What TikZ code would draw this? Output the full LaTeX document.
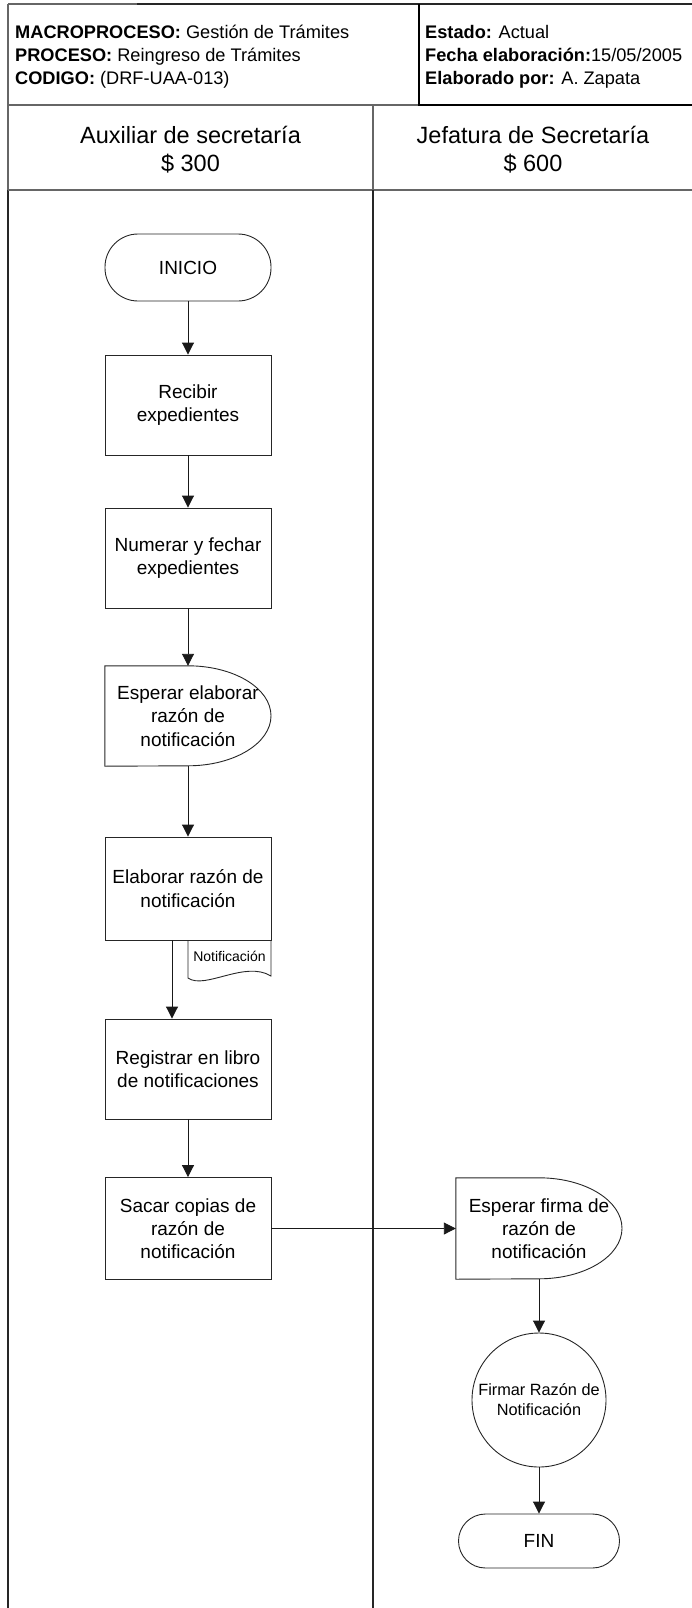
\documentclass[tikz,border=0pt]{standalone}
\usepackage{fontspec}
\setmainfont{Liberation Sans}
\usetikzlibrary{arrows.meta,calc}
\begin{document}
\begin{tikzpicture}[x=1pt,y=-1pt,
  frameline/.style={line width=1.3pt, draw=black!85},
  lightline/.style={line width=1.1pt, draw=black!60},
  heavyline/.style={line width=2pt, draw=black},
  hdrtext/.style={anchor=base west, inner sep=0pt, font=\fontsize{18.2}{23}\selectfont},
  lanetext/.style={anchor=base, inner sep=0pt, font=\fontsize{23.5}{28}\selectfont},
  procbox/.style={draw=black!85, line width=0.9pt, minimum width=166pt, minimum height=100pt, inner sep=0pt, align=center, font=\fontsize{19}{23.3}\selectfont},
  delaybox/.style={minimum width=166pt, minimum height=100pt, inner sep=0pt, align=center, font=\fontsize{19}{23.3}\selectfont},
  outline/.style={draw=black!85, line width=0.9pt},
  termbox/.style={draw=black!85, line width=0.9pt, minimum width=166pt, inner sep=0pt, align=center, font=\fontsize{19}{23.3}\selectfont},
  circbox/.style={draw=black!85, line width=0.9pt, circle, minimum size=134pt, inner sep=0pt, align=center, font=\fontsize{16.3}{20}\selectfont},
  arr/.style={draw=black!90, line width=0.9pt, -{Triangle[length=12pt,width=12pt]}}
]
\useasboundingbox (0,0) rectangle (692,1608);

% ---- header frame ----
\draw[lightline] (8,4) -- (137,4);
\draw[frameline] (137,4) -- (692,4);
\draw[lightline] (8,4) -- (8,190);
\draw[frameline] (8,190) -- (8,1608);
\draw[lightline] (8,105) -- (419,105);
\draw[heavyline] (419,4) -- (419,105) -- (692,105);
\draw[lightline] (8,190) -- (692,190);
\draw[lightline] (373,105) -- (373,190);
\draw[frameline] (373,190) -- (373,1608);

% ---- header texts ----
\node[hdrtext] (h1) at (15,38.5) {\textbf{MACROPROCESO:} Gestión de Trámites};
\node[hdrtext] (h2) at (15,61.8) {\textbf{PROCESO:} Reingreso de Trámites};
\node[hdrtext] (h3) at (15,85) {\textbf{CODIGO:} (DRF-UAA-013)};
\node[hdrtext] (h4) at (425,38.5) {\textbf{Estado:} Actual};
\node[hdrtext] (h5) at (425,61.8) {\textbf{Fecha elaboración:}15/05/2005};
\node[hdrtext] (h6) at (425,85) {\textbf{Elaborado por:} A. Zapata};

% ---- lane headers ----
\node[lanetext] (l1a) at (190.5,143.5) {Auxiliar de secretaría};
\node[lanetext] (l1b) at (190.5,171.5) {\$ 300};
\node[lanetext] (l2a) at (533,143.5) {Jefatura de Secretaría};
\node[lanetext] (l2b) at (533,171.5) {\$ 600};

% ---- left lane nodes ----
\node[termbox, rounded corners=33pt, minimum height=67pt] (inicio) at (188,267.5) {INICIO};
\node[procbox] (recibir) at (188,405) {Recibir\\expedientes};
\node[procbox] (numerar) at (188,558) {Numerar y fechar\\expedientes};
\node[delaybox] (esp1) at (188,716) {Esperar elaborar\\razón de\\notificación};
\draw[outline] (esp1.north west) -- (esp1.north) arc[start angle=90,end angle=-90,x radius=83pt,y radius=50pt] -- (esp1.south west) -- cycle;
\node[procbox, minimum height=103pt] (elab) at (188,888.5) {Elaborar razón de\\notificación};
\node[inner sep=0pt, minimum width=83pt, minimum height=30pt, font=\fontsize{14}{17}\selectfont] (doc) at (229.5,956) {Notificación};
\draw[outline] (188,940) -- (188,978) .. controls (205,990) and (245,960) .. (271,976) -- (271,940);
\node[procbox] (reg) at (188,1069) {Registrar en libro\\de notificaciones};
\node[procbox, minimum height=102pt] (sacar) at (188,1228.5) {Sacar copias de\\razón de\\notificación};

% ---- right lane nodes ----
\node[delaybox, minimum height=101pt] (esp2) at (539,1228.5) {Esperar firma de\\razón de\\notificación};
\draw[outline] (esp2.north west) -- (esp2.north) arc[start angle=90,end angle=-90,x radius=83pt,y radius=50.5pt] -- (esp2.south west) -- cycle;
\node[circbox] (firmar) at (539,1400) {Firmar Razón de\\Notificación};
\node[termbox, rounded corners=27pt, minimum width=161pt, minimum height=54pt] (fin) at (539,1541) {FIN};

% ---- connectors ----
\draw[arr] (inicio) -- (recibir);
\draw[arr] (recibir) -- (numerar);
\draw[arr] (numerar) -- (esp1.north);
\draw[arr] (esp1.south) -- (elab);
\draw[arr] ([xshift=-16pt]elab.south) -- ([xshift=-16pt]reg.north);
\draw[arr] (reg) -- (sacar);
\draw[arr] (sacar.east) -- (esp2.west);
\draw[arr] (esp2.south) -- (firmar);
\draw[arr] (firmar) -- (fin);
\end{tikzpicture}
\end{document}
